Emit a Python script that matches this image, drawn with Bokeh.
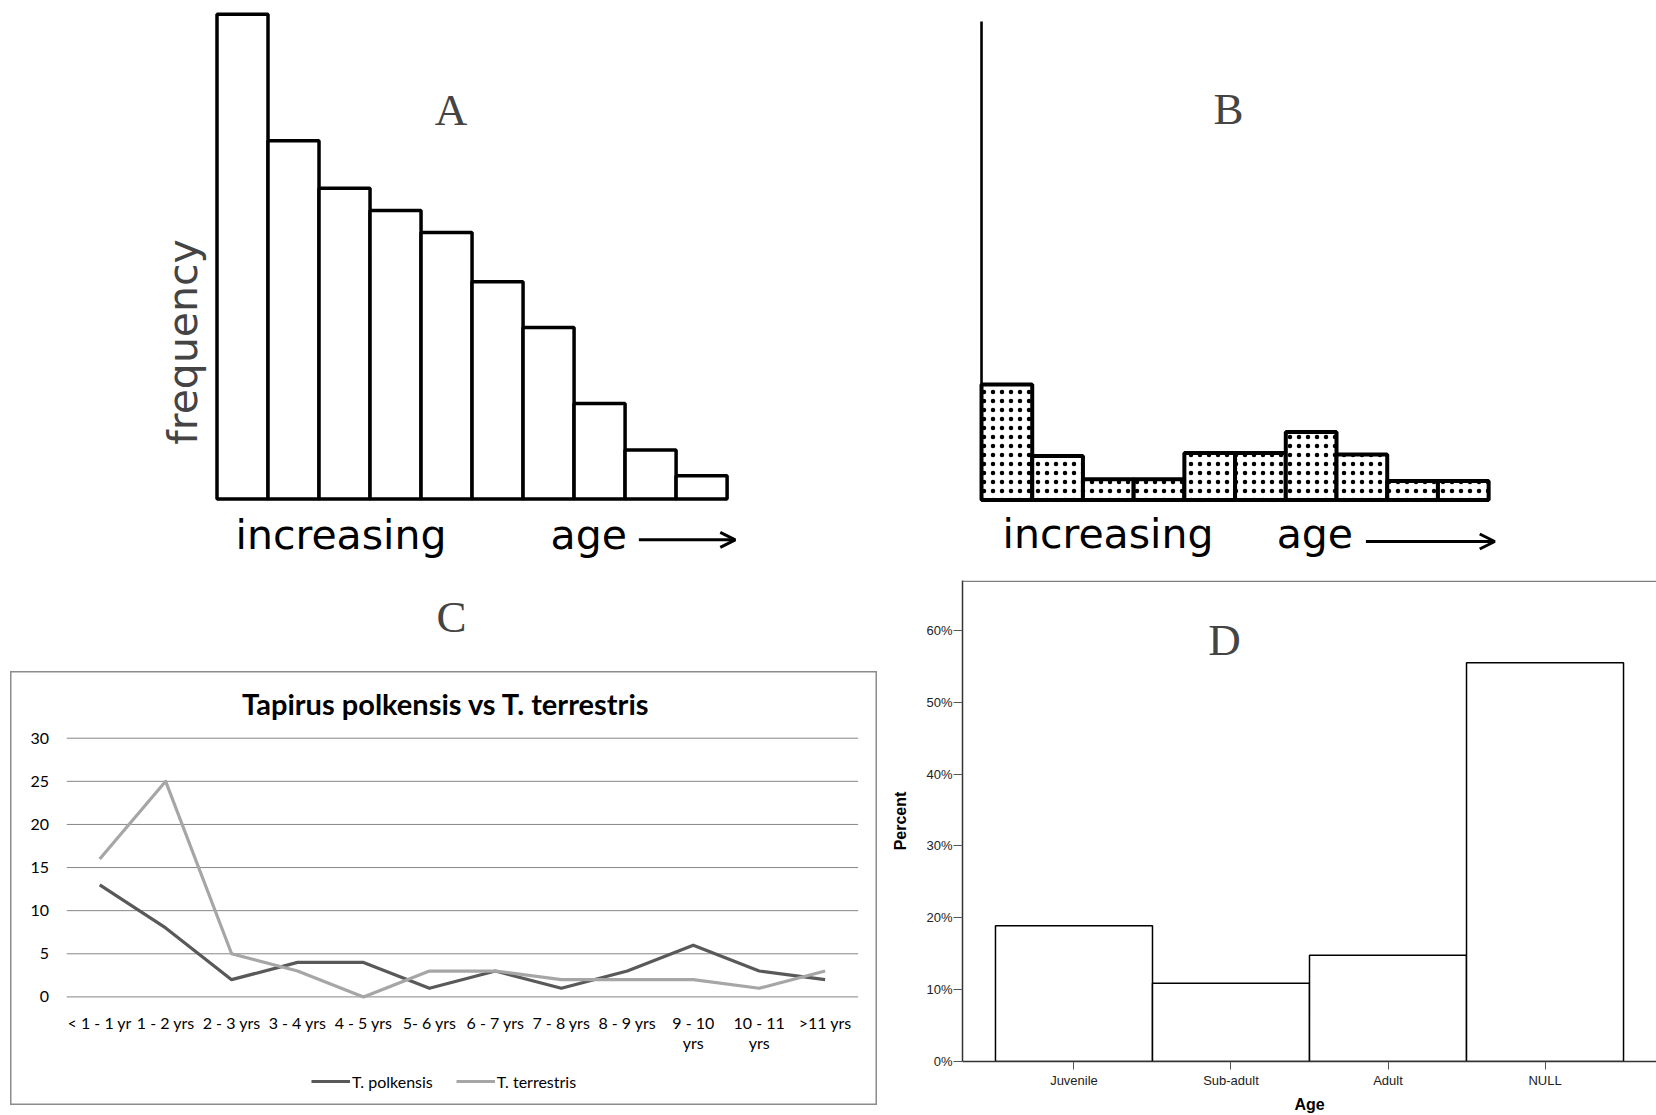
import numpy as np
from bokeh.plotting import figure
from bokeh.models import (Range1d, FactorRange, Label, Arrow, OpenHead, Span, Legend, LegendItem,
                          FixedTicker, PrintfTickFormatter, Spacer)
from bokeh.layouts import row, column
from bokeh.core.properties import value
from bokeh.embed import file_html
from bokeh.resources import INLINE

# ---------------- data ----------------
# Panel A: frequency by increasing age (relative units, tallest bar = 100)
a_freq = [100, 73.9, 64.1, 59.5, 55.0, 44.8, 35.4, 19.7, 10.1, 4.8]
# Panel B: frequency by increasing age (same units as A)
b_freq = [23.8, 9.1, 4.3, 4.3, 9.7, 9.7, 14.0, 9.4, 3.9, 3.9]
b_axis_top = 98.7
# Panel C: Tapirus polkensis vs T. terrestris
c_ages = ["< 1 - 1 yr", "1 - 2 yrs", "2 - 3 yrs", "3 - 4 yrs", "4 - 5 yrs", "5- 6 yrs",
          "6 - 7 yrs", "7 - 8 yrs", "8 - 9 yrs", "9 - 10\nyrs", "10 - 11\nyrs", ">11 yrs"]
c_polkensis = [13, 8, 2, 4, 4, 1, 3, 1, 3, 6, 3, 2]
c_terrestris = [16, 25, 5, 3, 0, 3, 3, 2, 2, 2, 1, 3]
c_yticks = [0, 5, 10, 15, 20, 25, 30]
# Panel D: percent by age class
d_ages = ["Juvenile", "Sub-adult", "Adult", "NULL"]
d_percent = [18.9, 10.9, 14.8, 55.5]
d_yticks = [0, 10, 20, 30, 40, 50, 60]

SANS = "DejaVu Sans"
SERIF = "Liberation Serif"
CAP = "41px"


def no_align(p):
    try:
        p.frame_align = False
    except Exception:
        pass


def bare(width, height, xr, yr, outline=None):
    p = figure(width=width, height=height, x_range=Range1d(*xr), y_range=Range1d(*yr),
               x_axis_type=None, y_axis_type=None, toolbar_location=None,
               output_backend="svg", min_border=0, outline_line_color=outline, title=None)
    p.grid.visible = False
    no_align(p)
    return p


def age_caption(p, x_inc, x_age, x_arrow0, x_arrow1, y_base, y_arrow):
    p.add_layout(Label(x=x_inc, y=y_base, text="increasing", text_font=SANS,
                       text_font_size=CAP, text_baseline="alphabetic", text_color="black"))
    p.add_layout(Label(x=x_age, y=y_base, text="age", text_font=SANS,
                       text_font_size=CAP, text_baseline="alphabetic", text_color="black"))
    p.add_layout(Arrow(end=OpenHead(size=15, line_width=3, line_color="black"),
                       x_start=x_arrow0, y_start=y_arrow, x_end=x_arrow1, y_end=y_arrow,
                       line_width=3, line_color="black"))


# ---------------- panel A ----------------
pA = bare(880, 671, (-4.244, 13.007), (-35.58, 102.83))
a_x = np.arange(len(a_freq)) + 0.5
pA.vbar(x=a_x, top=a_freq, bottom=0, width=1, fill_color="white",
        line_color="black", line_width=3.5)
pA.add_layout(Label(x=-0.66, y=32.4, text="frequency", angle=np.pi / 2, text_font=SANS,
                    text_font_size=CAP, text_align="center", text_baseline="alphabetic"))
age_caption(pA, 0.363, 6.54, 8.27, 10.16, -7.4, -8.42)
pA.add_layout(Label(x=4.587, y=80.14, text="A", text_font=SERIF, text_font_size="45px",
                    text_align="center", text_baseline="middle"))
pA.add_layout(Label(x=4.597, y=-24.40, text="C", text_font=SERIF, text_font_size="45px",
                    text_align="center", text_baseline="middle"))

# ---------------- panel B ----------------
pB = bare(776, 560, (-1.992, 13.31), (-12.48, 103.03))
b_x = np.arange(len(b_freq)) + 0.5
pB.segment(x0=[b_x[0] - 0.5], y0=[0], x1=[b_x[0] - 0.5], y1=[b_axis_top],
           line_color="black", line_width=2.6)
pB.vbar(x=b_x, top=b_freq, bottom=0, width=1, fill_color="white",
        line_color="black", line_width=4, hatch_pattern="dot", hatch_color="black",
        hatch_scale=9, hatch_weight=2.2)
age_caption(pB, 0.414, 5.82, 7.58, 10.12, -7.01, -8.56)
pB.add_layout(Label(x=4.87, y=80.6, text="B", text_font=SERIF, text_font_size="45px",
                    text_align="center", text_baseline="middle"))

# ---------------- panel C ----------------
pC = bare(867, 434, (-1.353, 11.794), (-12.594, 37.736), outline="#8c8c8c")
pC.outline_line_width = 2
c_x = np.arange(len(c_ages))
pC.segment(x0=c_x[0] - 0.5, y0=c_yticks, x1=c_x[-1] + 0.5, y1=c_yticks,
           line_color="#868686", line_width=1)
pC.text(x=-0.767, y=c_yticks, text=[str(t) for t in c_yticks], text_align="right",
        text_baseline="middle", text_font=value("Lato"), text_font_size="16px",
        text_color="black")
pC.text(x=c_x, y=-1.87, text=c_ages, text_align="center", text_baseline="top",
        text_line_height=1.07, text_font=value("Lato"), text_font_size="16px",
        text_color="black")
l1 = pC.line(x=c_x, y=c_polkensis, line_color="#595959", line_width=3.2, line_join="round")
l2 = pC.line(x=c_x, y=c_terrestris, line_color="#a6a6a6", line_width=3.2, line_join="round")
pC.add_layout(Label(x=5.252, y=34.08, text="Tapirus polkensis vs T. terrestris",
                    text_font="Lato", text_font_style="bold", text_font_size="29px",
                    text_align="center", text_baseline="middle", text_color="black"))
legend = Legend(items=[LegendItem(label="T. polkensis", renderers=[l1]),
                       LegendItem(label="T. terrestris", renderers=[l2])],
                orientation="horizontal", location=(301, 14), glyph_width=39, glyph_height=20,
                label_standoff=2, spacing=23, border_line_color=None, background_fill_alpha=0,
                label_text_font="Lato", label_text_font_size="16px", label_text_color="black",
                padding=5, margin=0)
pC.add_layout(legend)

# ---------------- panel D ----------------
pD = figure(width=776, height=555,
            x_range=FactorRange(*d_ages, range_padding=0.21, range_padding_units="absolute"),
            y_range=Range1d(0, 66.94), toolbar_location=None, output_backend="svg",
            min_border_left=82, min_border_right=0, min_border_top=20, min_border_bottom=52,
            outline_line_color=None, title=None)
no_align(pD)
pD.grid.visible = False
pD.vbar(x=d_ages, top=d_percent, width=1, fill_color="white", line_color="black", line_width=1.5)
pD.add_layout(Span(location=66.84, dimension="width", line_color="#7f7f7f", line_width=1.5))
pD.yaxis.ticker = FixedTicker(ticks=d_yticks)
pD.yaxis.formatter = PrintfTickFormatter(format="%d%%")
for ax in (pD.xaxis, pD.yaxis):
    ax.axis_line_color = "#333333"
    ax.axis_line_width = 1.5
    ax.major_tick_line_color = "#555555"
    ax.major_tick_in = 0
    ax.minor_tick_line_color = None
    ax.major_label_text_font = "Liberation Sans"
    ax.major_label_text_font_size = "13px"
    ax.major_label_text_color = "#222222"
    ax.axis_label_text_font = "Liberation Sans"
    ax.axis_label_text_font_style = "bold"
    ax.axis_label_text_font_size = "16px"
    ax.axis_label_text_color = "black"
pD.yaxis.major_tick_out = 9
pD.yaxis.major_label_standoff = 1
pD.yaxis.axis_label = "Percent"
pD.yaxis.axis_label_standoff = 14
pD.xaxis.major_tick_out = 8
pD.xaxis.major_label_standoff = 3
pD.xaxis.axis_label = "Age"
pD.xaxis.axis_label_standoff = 5
pD.add_layout(Label(x=1.458, y=58.6, text="D", text_font=SERIF, text_font_size="45px",
                    text_align="center", text_baseline="middle"))

left = column(pA, row(Spacer(width=10, height=434), pC))
right = column(pB, pD)
layout = row(left, right)

open("out.html", "w").write(file_html(layout, INLINE))
